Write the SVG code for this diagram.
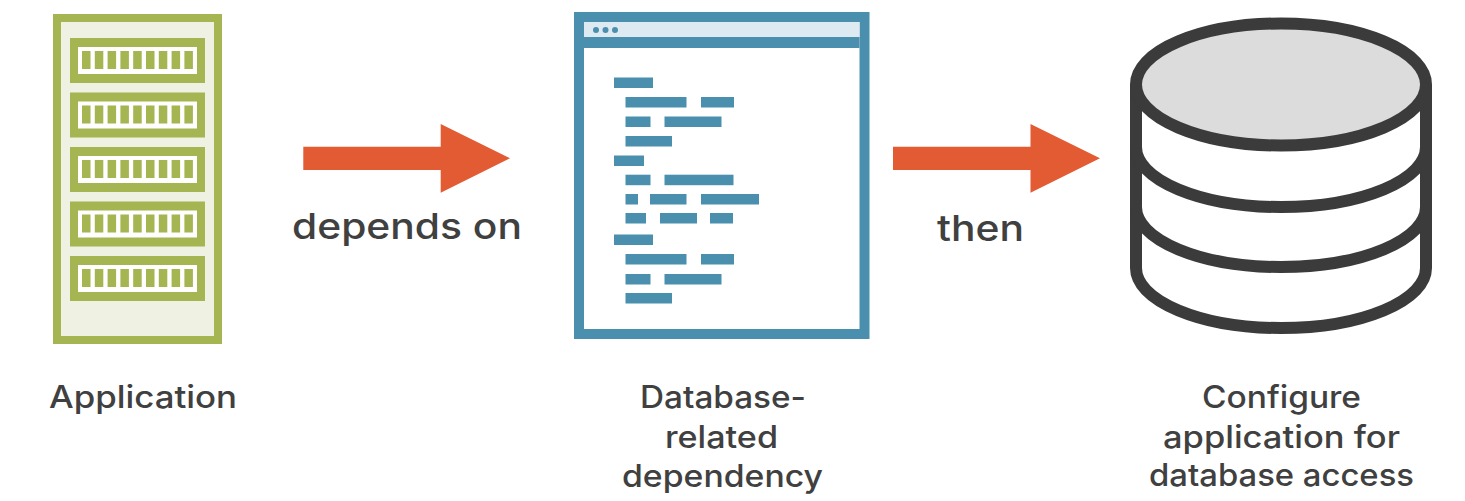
<svg xmlns="http://www.w3.org/2000/svg" width="1465" height="501" viewBox="0 0 1465 501">
<defs>
<g id="slot">
<rect x="70" y="0" width="135" height="45" fill="#a4b551"/>
<rect x="78" y="9" width="119" height="27" fill="#ffffff"/>
<g fill="#a4b551">
<rect x="82" y="13" width="8.5" height="18"/><rect x="94.8" y="13" width="8.5" height="18"/><rect x="107.6" y="13" width="8.5" height="18"/><rect x="120.4" y="13" width="8.5" height="18"/><rect x="133.2" y="13" width="8.5" height="18"/><rect x="146" y="13" width="8.5" height="18"/><rect x="158.8" y="13" width="8.5" height="18"/><rect x="171.6" y="13" width="8.5" height="18"/><rect x="184.4" y="13" width="8.5" height="18"/>
</g>
</g>
</defs>
<style>
text{font-family:"Inter","Noto Sans",sans-serif;font-weight:500;fill:#404040;font-size:31px;text-anchor:middle}
.e{font-size:36px}
.b{fill:#4a90ae}
.d{fill:none;stroke:#3b3b3b;stroke-width:12}
.a{fill:#e25b33}
</style>
<rect width="1465" height="501" fill="#ffffff"/>
<g id="application">
<rect x="57" y="18" width="161" height="322" fill="#eff1e2" stroke="#a4b551" stroke-width="8"/>
<use href="#slot" y="38"/><use href="#slot" y="92.5"/><use href="#slot" y="147"/><use href="#slot" y="201.5"/><use href="#slot" y="256"/>
<text x="143" y="408" textLength="188" lengthAdjust="spacingAndGlyphs">Application</text>
</g>
<g id="dependency">
<rect x="579" y="17" width="285.500" height="317" fill="#ffffff" stroke="#4a90ae" stroke-width="10"/>
<rect x="584" y="22" width="275.500" height="15" fill="#deeaf2"/>
<rect x="584" y="37" width="275.500" height="11" class="b"/>
<circle class="b" cx="596" cy="30" r="3"/><circle class="b" cx="605.500" cy="30" r="3"/><circle class="b" cx="615" cy="30" r="3"/>
<g class="b">
<rect x="614" y="77.500" width="39" height="10.500"/>
<rect x="625.500" y="97" width="61" height="10.500"/><rect x="701" y="97" width="33" height="10.500"/>
<rect x="625.500" y="116.500" width="25" height="10.500"/><rect x="664.500" y="116.500" width="57" height="10.500"/>
<rect x="625.500" y="136" width="46.500" height="10.500"/>
<rect x="614" y="155.500" width="30" height="10.500"/>
<rect x="625.500" y="174.700" width="25" height="10.500"/><rect x="664.500" y="174.700" width="69" height="10.500"/>
<rect x="625.500" y="194" width="12.500" height="10.500"/><rect x="650" y="194" width="36.500" height="10.500"/><rect x="701" y="194" width="58" height="10.500"/>
<rect x="625.500" y="213" width="20.500" height="10.500"/><rect x="660" y="213" width="37" height="10.500"/><rect x="710" y="213" width="23" height="10.500"/>
<rect x="614" y="234.500" width="39" height="10.500"/>
<rect x="625.500" y="254" width="61" height="10.500"/><rect x="701" y="254" width="33" height="10.500"/>
<rect x="625.500" y="274" width="25" height="10.500"/><rect x="664.500" y="274" width="57" height="10.500"/>
<rect x="625.500" y="293" width="46.500" height="10.500"/>
</g>
<text x="723" y="408" textLength="166" lengthAdjust="spacingAndGlyphs">Database-</text>
<text x="721.500" y="448" textLength="113" lengthAdjust="spacingAndGlyphs">related</text>
<text x="722.500" y="487" textLength="201" lengthAdjust="spacingAndGlyphs">dependency</text>
</g>
<g id="database">
<path class="d" d="M1136 85V268A145 60 0 0 0 1426 268V85"/>
<path class="d" d="M1136 147A145 60 0 0 0 1426 147"/>
<path class="d" d="M1136 207A145 60 0 0 0 1426 207"/>
<ellipse cx="1281" cy="84.500" rx="145" ry="61" fill="#dcdcdc" stroke="#3b3b3b" stroke-width="12"/>
<text x="1281.500" y="408" textLength="159" lengthAdjust="spacingAndGlyphs">Configure</text>
<text x="1281.500" y="448" textLength="237" lengthAdjust="spacingAndGlyphs">application for</text>
<text x="1281.500" y="486" textLength="265" lengthAdjust="spacingAndGlyphs">database access</text>
</g>
<g id="connectors">
<polygon class="a" points="303.300,146.700 440.700,146.700 440.700,124 510,158.300 440.700,192.700 440.700,170 303.300,170"/>
<polygon class="a" points="893,146.700 1030.500,146.700 1030.500,124 1100,158.300 1030.500,192.700 1030.500,170 893,170"/>
<text class="e" x="407" y="239" textLength="230" lengthAdjust="spacingAndGlyphs">depends on</text>
<text class="e" x="980.500" y="241" textLength="87" lengthAdjust="spacingAndGlyphs">then</text>
</g>
</svg>
